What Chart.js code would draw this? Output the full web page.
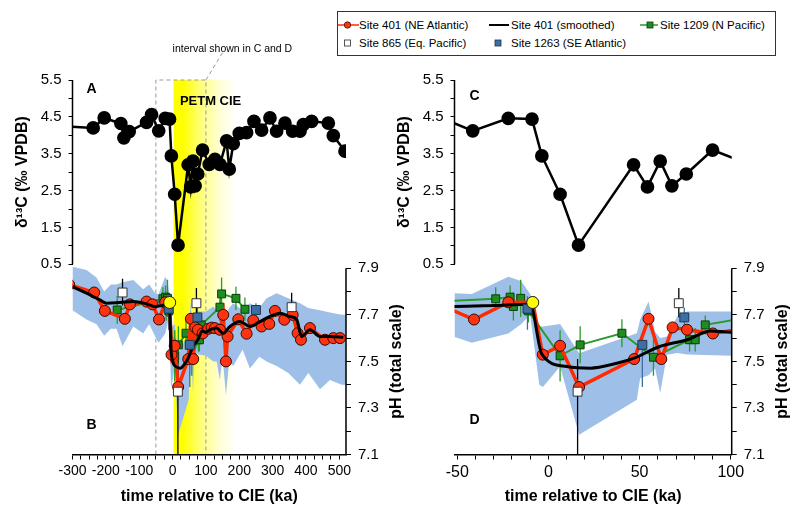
<!DOCTYPE html>
<html>
<head>
<meta charset="utf-8">
<title>PETM pH and d13C</title>
<script src="https://cdn.jsdelivr.net/npm/chart.js@4.4.0/dist/chart.umd.min.js"></script>
<style>
  html, body { margin: 0; padding: 0; background: #fff; }
  body { position: relative; width: 800px; height: 518px; overflow: hidden;
         font-family: "Liberation Sans", Arial, Helvetica, sans-serif; }
  canvas { position: absolute; top: 0; }
  #panelAB { left: 0; }
  #panelCD { left: 390px; }
  #legend { position: absolute; left: 337px; top: 11px; width: 437px; height: 43px;
            border: 1px solid #333; background: #fff; }
  #legend .item { position: absolute; height: 14px; line-height: 14px; font-size: 11.5px; white-space: nowrap; color: #000; }
  #legend svg, #legend span { display: inline-block; vertical-align: top; }
</style>
</head>
<body>
<canvas id="panelAB" width="410" height="518"></canvas>
<canvas id="panelCD" width="410" height="518"></canvas>
<div id="legend">
  <div class="item" style="left:0;top:6px"><svg width="21" height="14"><line x1="0" y1="7" x2="21" y2="7" stroke="#ff2a00" stroke-width="1.5"/><circle cx="9.5" cy="7" r="3.2" fill="#ff3311" stroke="#401000" stroke-width="0.8"/></svg><span>Site 401 (NE Atlantic)</span></div>
  <div class="item" style="left:151px;top:6px"><svg width="22" height="14"><line x1="0" y1="7" x2="20" y2="7" stroke="#000" stroke-width="2"/></svg><span>Site 401 (smoothed)</span></div>
  <div class="item" style="left:302px;top:6px"><svg width="20" height="14"><line x1="0" y1="7" x2="18" y2="7" stroke="#2a9a2a" stroke-width="1.5"/><rect x="7" y="4" width="6" height="6" fill="#1e8c1e" stroke="#0b3d0b" stroke-width="0.8"/></svg><span>Site 1209 (N Pacific)</span></div>
  <div class="item" style="left:0;top:24px"><svg width="21" height="14"><rect x="6.5" y="4" width="6" height="6" fill="#fff" stroke="#444" stroke-width="0.9"/></svg><span>Site 865 (Eq. Pacific)</span></div>
  <div class="item" style="left:151px;top:24px"><svg width="22" height="14"><rect x="6" y="4" width="6" height="6" fill="#3d6fa3" stroke="#1d3550" stroke-width="0.8"/></svg><span>Site 1263 (SE Atlantic)</span></div>
</div>
<script>
// ---------- data (age in ka relative to the CIE) ----------

// bulk carbonate d13C, Site 401 (panels A and C)
const d13cAge = [-330, -238, -205, -155, -146, -130, -78, -63, -41.5, -22, -9, -3.6, 6.4, 16.5, 46.7, 54.3, 61.3, 67.7, 75.6, 90,
                 110, 127, 142, 162, 170, 182, 200, 222, 244, 267, 292, 312, 337, 360, 382, 392, 417, 467, 482, 517];
const d13cVal = [4.25, 4.20, 4.47, 4.32, 3.93, 4.10, 4.35, 4.56, 4.12, 4.46, 4.44, 3.44, 2.40, 1.02, 3.20, 2.60, 3.30, 2.63, 2.95, 3.60,
                 3.21, 3.35, 3.21, 3.85, 3.08, 3.77, 4.05, 4.07, 4.38, 4.14, 4.47, 4.11, 4.33, 4.11, 4.11, 4.29, 4.38, 4.33, 3.99, 3.57];

// pH, Site 401 (NE Atlantic)
const site401Age = [-310, -235, -203, -143, -128, -78, -60, -40.8, -22, -8.6, -3.1, 6.4, 16.8, 47, 54.9, 61.9, 68.1, 76, 90.2, 107,
                    117, 127, 142, 152, 160, 165, 197, 222, 242, 267, 290, 307, 335, 360, 375, 385, 412, 457, 482, 502];
const site401PH = [7.83, 7.796, 7.717, 7.683, 7.745, 7.757, 7.745, 7.68, 7.754, 7.754, 7.529, 7.567, 7.39, 7.51, 7.683, 7.51, 7.646, 7.636, 7.62, 7.64,
                   7.645, 7.643, 7.636, 7.70, 7.50, 7.607, 7.681, 7.619, 7.676, 7.65, 7.661, 7.717, 7.679, 7.70, 7.621, 7.593, 7.643, 7.593, 7.60, 7.60];

// pH, Site 401 smoothed
const smoothAge = [-300, -258, -218, -198, -158, -118, -78, -52, -30, -10, -3.6, 10, 23, 37.5, 47, 61, 76, 89, 100, 112,
                   132, 152, 172, 202, 232, 262, 292, 322, 352, 372, 387, 412, 442, 472, 512];
const smoothPH = [7.821, 7.793, 7.764, 7.75, 7.753, 7.757, 7.747, 7.736, 7.74, 7.745, 7.531, 7.478, 7.471, 7.492, 7.514, 7.564, 7.593, 7.631, 7.625, 7.636,
                  7.643, 7.621, 7.65, 7.671, 7.65, 7.671, 7.693, 7.707, 7.693, 7.68, 7.607, 7.636, 7.607, 7.607, 7.604];

// pH, Site 1209 (N Pacific) with +/- error
const site1209Age = [-166, -28.9, -21, -19.2, -15.2, -11, 6.4, 17.4, 40.3, 57.6, 77.4, 80.5, 86, 142, 147, 190, 217];
const site1209PH = [7.721, 7.769, 7.776, 7.736, 7.771, 7.717, 7.524, 7.571, 7.621, 7.518, 7.593, 7.593, 7.657, 7.733, 7.79, 7.771, 7.724];
const site1209Err = [0.06, 0.05, 0.05, 0.06, 0.08, 0.05, 0.11, 0.08, 0.06, 0.08, 0.05, 0.05, 0.04, 0.06, 0.07, 0.05, 0.05];

// pH, Site 865 (Eq. Pacific) with error range
const site865Age = [-150, 16, 71.5, 357];
const site865PH = [7.796, 7.37, 7.75, 7.733];
const site865Lo = [7.74, 7.0, 7.69, 7.70];
const site865Hi = [7.855, 7.51, 7.815, 7.795];

// pH, Site 1263 (SE Atlantic) with error range
const site1263Age = [-11.5, 51.5, 74.5, 250];
const site1263PH = [7.726, 7.571, 7.689, 7.721];
const site1263Lo = [7.636, 7.39, 7.65, 7.69];
const site1263Hi = [7.78, 7.62, 7.73, 7.75];

// pre-CIE reference point
const preCieAge = [-8.6];
const preCiePH = [7.753];

// uncertainty envelope
const bandAge = [-310, -300, -258, -228, -205, -185, -168, -150, -118, -88, -70, -52, -42, -22, -15, -10, -5, -3, 6.4, 16.8,
                 48.5, 50.3, 54.9, 58.5, 61.3, 65, 70.6, 76, 100, 122, 132, 142, 150, 160, 170, 182, 210, 232, 260, 282,
                 312, 347, 382, 407, 442, 472, 507, 530];
const bandHi = [7.91, 7.907, 7.893, 7.86, 7.80, 7.83, 7.83, 7.84, 7.85, 7.81, 7.83, 7.793, 7.79, 7.864, 7.845, 7.79, 7.65, 7.65, 7.661, 7.535,
                7.621, 7.68, 7.757, 7.626, 7.60, 7.607, 7.693, 7.714, 7.714, 7.736, 7.72, 7.70, 7.72, 7.70, 7.73, 7.75, 7.72, 7.75, 7.73, 7.771,
                7.793, 7.771, 7.75, 7.729, 7.72, 7.71, 7.70, 7.70];
const bandLo = [7.72, 7.72, 7.68, 7.66, 7.61, 7.64, 7.64, 7.565, 7.65, 7.62, 7.66, 7.607, 7.58, 7.62, 7.66, 7.70, 7.40, 7.39, 7.478, 7.185,
                7.335, 7.428, 7.44, 7.47, 7.364, 7.529, 7.536, 7.53, 7.524, 7.50, 7.50, 7.42, 7.52, 7.355, 7.50, 7.48, 7.55, 7.47, 7.52, 7.50,
                7.48, 7.45, 7.40, 7.45, 7.38, 7.42, 7.40, 7.40];

// tick labels
const d13cTickLabels = [0.5, 1.5, 2.5, 3.5, 4.5, 5.5];
const phTickLabels = [7.1, 7.3, 7.5, 7.7, 7.9];
const ageTickLabelsAB = [-300, -200, -100, 0, 100, 200, 300, 400, 500];
const ageTickLabelsCD = [-50, 0, 50, 100];

// ---------- styling ----------
const FONT = '"Liberation Sans", Arial, Helvetica, sans-serif';
const RED = '#ff2a00', GREEN = '#2a9a2a', BLUE = '#3d6fa3', BAND = 'rgb(158,192,232)';
const D13C_MIN = -4.66;   // so that 5.5..0.5 fills the upper half
const PH_MAX = 8.709;     // so that 7.9..7.1 fills the lower half

const pts = (xs, ys) => xs.map((x, i) => ({ x, y: ys[i] }));
const bars = (xs, lo, hi) => xs.flatMap((x, i) => [{ x, y: lo[i] }, { x, y: hi[i] }, { x, y: null }]);

function makeDatasets() {
  const base = { type: 'line', clip: 0, fill: false, tension: 0, pointRadius: 0, pointHoverRadius: 0, yAxisID: 'yPH' };
  const list = [
    { data: pts(preCieAge, preCiePH), showLine: false, pointRadius: 6, pointBackgroundColor: '#ffff00', pointBorderColor: '#222', pointBorderWidth: 1 },
    { data: pts(site865Age, site865PH), showLine: false, pointStyle: 'rect', pointRadius: 6.3, pointBackgroundColor: '#fff', pointBorderColor: '#333', pointBorderWidth: 1 },
    { data: pts(site1263Age, site1263PH), showLine: false, pointStyle: 'rect', pointRadius: 6.3, pointBackgroundColor: BLUE, pointBorderColor: '#1d3550', pointBorderWidth: 1 },
    { data: pts(smoothAge, smoothPH), borderColor: '#000', borderWidth: 3, cubicInterpolationMode: 'monotone' },
    { data: pts(site401Age, site401PH), borderColor: RED, borderWidth: 3.5, pointRadius: 5.5, pointBackgroundColor: '#ff3311', pointBorderColor: '#3a0a00', pointBorderWidth: 1 },
    { data: pts(site1209Age, site1209PH), borderColor: GREEN, borderWidth: 2, pointStyle: 'rect', pointRadius: 5.6, pointBackgroundColor: '#1e8c1e', pointBorderColor: '#0b3d0b', pointBorderWidth: 1 },
    { data: bars(site865Age, site865Lo, site865Hi), borderColor: '#000', borderWidth: 1.3 },
    { data: bars(site1263Age, site1263Lo, site1263Hi), borderColor: BLUE, borderWidth: 1.3 },
    { data: bars(site1209Age, site1209PH.map((v, i) => v - site1209Err[i]), site1209PH.map((v, i) => v + site1209Err[i])), borderColor: GREEN, borderWidth: 1.3 },
    { data: pts(d13cAge, d13cVal), yAxisID: 'yC', borderColor: '#000', borderWidth: 2.5, pointRadius: 5.6, pointBackgroundColor: '#000', pointBorderColor: '#000' },
    { data: pts(bandAge, bandHi), borderWidth: 0, fill: '+1', backgroundColor: BAND },
    { data: pts(bandAge, bandLo), borderWidth: 0 }
  ];
  return list.map(d => Object.assign({}, base, d));
}

function tickList(lo, hi, step) {
  const t = [];
  for (let v = lo; v <= hi + 1e-9; v += step) t.push(Math.round(v * 1000) / 1000);
  return t;
}

function vText(ctx, text, x, y) {
  ctx.save();
  ctx.translate(x, y);
  ctx.rotate(-Math.PI / 2);
  ctx.textAlign = 'center';
  ctx.textBaseline = 'middle';
  ctx.fillText(text, 0, 0);
  ctx.restore();
}

// axis lines, rotated titles and panel letters
const panelDecor = {
  id: 'panelDecor',
  afterDraw(chart, args, o) {
    const { ctx, chartArea: a, scales: { yC, yPH } } = chart;
    ctx.save();
    ctx.strokeStyle = '#000';
    ctx.lineWidth = 1.5;
    ctx.beginPath();
    ctx.moveTo(a.left, yC.getPixelForValue(5.5));
    ctx.lineTo(a.left, yC.getPixelForValue(0.5));
    ctx.moveTo(a.right, yPH.getPixelForValue(7.9));
    ctx.lineTo(a.right, yPH.getPixelForValue(7.1));
    ctx.stroke();
    ctx.fillStyle = '#000';
    ctx.font = 'bold 16px ' + FONT;
    vText(ctx, 'δ¹³C (‰ VPDB)', a.left - 50, yC.getPixelForValue(3));
    vText(ctx, 'pH (total scale)', a.right + 51, yPH.getPixelForValue(7.5));
    ctx.font = 'bold 14px ' + FONT;
    ctx.textAlign = 'center';
    ctx.textBaseline = 'middle';
    ctx.fillText(o.top, a.left + o.dx, o.topY);
    ctx.fillText(o.bottom, a.left + o.dx, o.bottomY);
    ctx.restore();
  }
};

// yellow CIE shading and dashed window of panels C/D (panel A/B only)
const cieWindow = {
  id: 'cieWindow',
  beforeDraw(chart) {
    const { ctx, chartArea: a, scales: { x } } = chart;
    const x0 = x.getPixelForValue(3), x1 = x.getPixelForValue(190);
    const g = ctx.createLinearGradient(x0, 0, x1, 0);
    g.addColorStop(0, '#ffff00');
    g.addColorStop(0.15, '#ffff00');
    g.addColorStop(0.45, '#ffff80');
    g.addColorStop(0.75, '#ffffd8');
    g.addColorStop(1, '#ffffff');
    ctx.save();
    ctx.fillStyle = g;
    ctx.fillRect(x0, a.top, x1 - x0, a.bottom - a.top);
    const w0 = x.getPixelForValue(-50), w1 = x.getPixelForValue(100);
    ctx.strokeStyle = '#999';
    ctx.lineWidth = 1;
    ctx.setLineDash([4, 3]);
    ctx.beginPath();
    ctx.moveTo(w0, a.bottom); ctx.lineTo(w0, a.top); ctx.lineTo(w1, a.top); ctx.lineTo(w1, a.bottom);
    ctx.moveTo(w1, a.top); ctx.lineTo(w1 + 17, a.top - 28);
    ctx.stroke();
    ctx.restore();
  },
  afterDraw(chart) {
    const { ctx, chartArea: a, scales: { x } } = chart;
    ctx.save();
    ctx.fillStyle = '#000';
    ctx.textAlign = 'left';
    ctx.textBaseline = 'middle';
    ctx.font = 'bold 13px ' + FONT;
    ctx.fillText('PETM CIE', x.getPixelForValue(22), a.top + 21);
    ctx.font = '10.5px ' + FONT;
    ctx.fillText('interval shown in C and D', x.getPixelForValue(0), a.top - 31);
    ctx.restore();
  }
};

function panel(canvasId, cfg) {
  return new Chart(document.getElementById(canvasId), {
    type: 'line',
    data: { datasets: makeDatasets() },
    options: {
      responsive: false,
      animation: false,
      events: [],
      layout: { padding: { top: 80, left: 0, right: 0, bottom: 0 } },
      plugins: { legend: { display: false }, tooltip: { enabled: false }, panelDecor: cfg.decor },
      scales: {
        x: {
          type: 'linear', position: 'bottom', min: cfg.xMin, max: cfg.xMax,
          afterFit: s => { s.height = 63.5; },
          afterBuildTicks: s => { s.ticks = tickList(cfg.xFirst, cfg.xLast, cfg.xStep).map(v => ({ value: v })); },
          ticks: { autoSkip: false, maxRotation: 0, padding: 3, color: '#000', font: { family: FONT, size: cfg.xFont },
                   callback: v => cfg.xLabels.includes(v) ? String(v) : '' },
          grid: { drawOnChartArea: false, tickLength: 5, color: '#000', lineWidth: 1 },
          border: { color: '#000', width: 1.5 },
          title: { display: true, text: 'time relative to CIE (ka)', color: '#000',
                   font: { family: FONT, size: 16, weight: 'bold' }, padding: { top: 0, bottom: 12 } }
        },
        yC: {
          type: 'linear', position: 'left', min: D13C_MIN, max: 5.5,
          afterFit: s => { s.width = cfg.leftW; },
          afterBuildTicks: s => { s.ticks = tickList(0.5, 5.5, 0.5).map(v => ({ value: v })); },
          ticks: { autoSkip: false, padding: 7, color: '#000', font: { family: FONT, size: 15 },
                   callback: v => d13cTickLabels.includes(v) ? v.toFixed(1) : '' },
          grid: { drawOnChartArea: false, tickLength: 4, color: '#000', lineWidth: 1 },
          border: { display: false }
        },
        yPH: {
          type: 'linear', position: 'right', min: 7.1, max: PH_MAX,
          afterFit: s => { s.width = cfg.rightW; },
          afterBuildTicks: s => { s.ticks = tickList(7.1, 7.9, 0.1).map(v => ({ value: v })); },
          ticks: { autoSkip: false, padding: 7, color: '#000', font: { family: FONT, size: 15 },
                   callback: v => phTickLabels.includes(v) ? v.toFixed(1) : '' },
          grid: { drawOnChartArea: false, tickLength: 5, color: '#000', lineWidth: 1 },
          border: { display: false }
        }
      }
    },
    plugins: cfg.plugins
  });
}

panel('panelAB', {
  xMin: -300, xMax: 520, xFirst: -300, xLast: 500, xStep: 25, xLabels: ageTickLabelsAB, xFont: 14,
  leftW: 72.5, rightW: 64,
  decor: { top: 'A', bottom: 'B', dx: 19, topY: 89, bottomY: 425 },
  plugins: [cieWindow, panelDecor]
});

panel('panelCD', {
  xMin: -51.5, xMax: 100.5, xFirst: -50, xLast: 100, xStep: 10, xLabels: ageTickLabelsCD, xFont: 16,
  leftW: 64.5, rightW: 68.3,
  decor: { top: 'C', bottom: 'D', dx: 20, topY: 96, bottomY: 420 },
  plugins: [panelDecor]
});
</script>
</body>
</html>
